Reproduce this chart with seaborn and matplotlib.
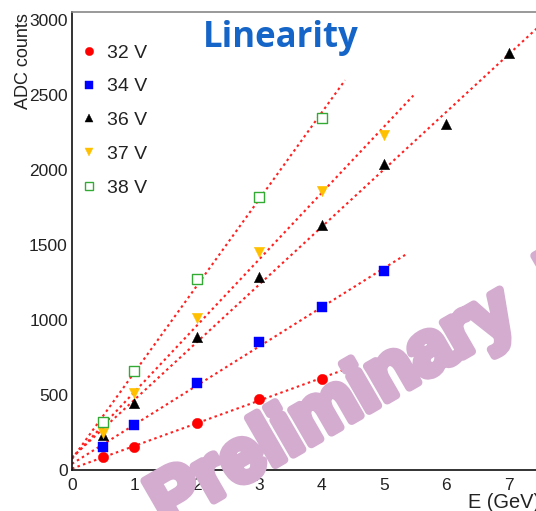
import numpy as np
import pandas as pd
import matplotlib
matplotlib.use("Agg")
import matplotlib.pyplot as plt
import matplotlib.patheffects as pe
from matplotlib.lines import Line2D
from matplotlib.ticker import MultipleLocator
import seaborn as sns

# ---------------- data ----------------
energy = [0.5, 1, 2, 3, 4, 5, 6, 7]
adc_32 = [85, 155, 315, 471, 607]
adc_34 = [151, 300, 578, 851, 1085, 1325]
adc_36 = [233, 449, 885, 1285, 1633, 2040, 2307, 2782]
adc_37 = [249, 511, 1011, 1455, 1862, 2233]
adc_38 = [322, 662, 1271, 1822, 2349]
labels = ["32 V", "34 V", "36 V", "37 V", "38 V"]
fit_end = [4.375, 5.34, 7.6, 5.47, 4.375]

series = [adc_32, adc_34, adc_36, adc_37, adc_38]
colors = ["#ff0000", "#0000ff", "#000000", "#ffc000", "#33aa33"]
markers = ["o", "s", "^", "v", "s"]
filled = [True, True, True, True, False]
msizes = [7.5, 7, 7.5, 7.5, 7.5]

sns.set_theme(style="white")
plt.rcParams["font.family"] = ["Liberation Sans", "DejaVu Sans"]

fig = plt.figure(figsize=(5.36, 5.11), dpi=100)
ax = fig.add_axes([72 / 536, 41 / 511, 468 / 536, 458 / 511])

rows = []
for lab, ys in zip(labels, series):
    for x, y in zip(energy, ys):
        rows.append({"E": x, "ADC": y, "V": lab})
df = pd.DataFrame(rows)

# fit lines
for lab, ys, xe in zip(labels, series, fit_end):
    xs = np.array(energy[:len(ys)])
    k, b = np.polyfit(xs, np.array(ys), 1)
    xl = np.linspace(0, xe, 2)
    fd = pd.DataFrame({"E": xl, "ADC": k * xl + b})
    sns.lineplot(data=fd, x="E", y="ADC", ax=ax, color="#ff2020", lw=1.5,
                 linestyle=(0, (1.2, 1.6)), zorder=2, legend=False)

handles = []
for lab, c, m, f, ms in zip(labels, colors, markers, filled, msizes):
    d = df[df["V"] == lab]
    fc = c if f else "white"
    sns.scatterplot(data=d, x="E", y="ADC", ax=ax, marker=m, s=ms ** 2,
                    color=fc, edgecolor=c, linewidth=1.0 if not f else 0.3,
                    zorder=3, legend=False)
    handles.append(Line2D([], [], ls="none", marker=m, markersize=ms * 0.8,
                          markerfacecolor=fc, markeredgecolor=c,
                          markeredgewidth=1.0 if not f else 0.3))

ax.set_xlim(0, 7.5)
ax.set_ylim(0, 3053)
ax.xaxis.set_major_locator(MultipleLocator(1))
ax.xaxis.set_minor_locator(MultipleLocator(0.2))
ax.yaxis.set_major_locator(MultipleLocator(500))
ax.yaxis.set_minor_locator(MultipleLocator(100))
ax.tick_params(which="both", direction="in", colors="#555555",
               labelcolor="#222222", labelsize=12.5, top=False, right=False)
ax.tick_params(which="major", length=13, width=1)
ax.tick_params(which="minor", length=7, width=1)
ax.tick_params(axis="x", pad=6)
ax.tick_params(axis="y", pad=3)
for s in ["left", "bottom"]:
    ax.spines[s].set_color("#111111")
    ax.spines[s].set_linewidth(1.2)
ax.spines["top"].set_color("#888888")
ax.spines["top"].set_linewidth(1.2)
ax.set_xlabel("")
ax.set_ylabel("")

fig.text(24 / 536, 1 - 13 / 511, "ADC counts", rotation=90, ha="center",
         va="top", fontsize=13, color="#222222")
fig.text(540 / 536, 1 - 503 / 511, "E (GeV)", ha="right", va="center",
         fontsize=14.4, color="#222222")

leg = ax.legend(handles, labels, loc="upper left",
                bbox_to_anchor=(81 / 536, 1 - 44 / 511),
                bbox_transform=fig.transFigure, frameon=False, fontsize=14,
                handlelength=0.8, handletextpad=0.55, labelspacing=0.83,
                borderaxespad=0, borderpad=0)
for t in leg.get_texts():
    t.set_color("#222222")

fig.text(281 / 536, 1 - 38 / 511, "Linearity", ha="center", va="center",
         fontsize=25, fontweight="bold", color="#1565c8",
         family=["Open Sans", "DejaVu Sans"])

wm = fig.text(166 / 536, 1 - 528 / 511, "Preliminary  Result", rotation=30,
              rotation_mode="anchor", ha="left", va="baseline", fontsize=54,
              fontweight="bold", color="#d3acd0", zorder=10)
wm.set_path_effects([pe.Stroke(linewidth=6, foreground="#d3acd0"), pe.Normal()])

fig.savefig("out.png", dpi=100)
